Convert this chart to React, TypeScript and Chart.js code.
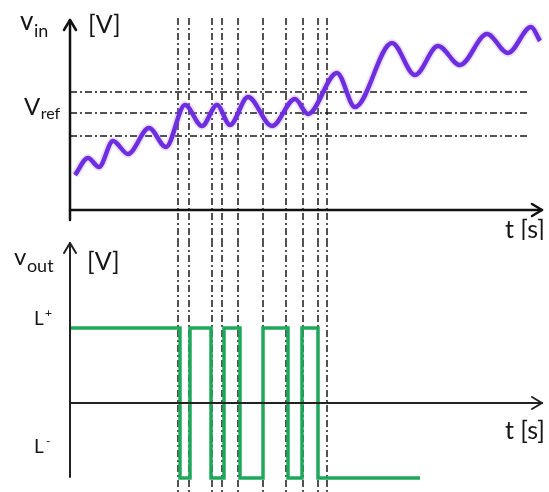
import React, { useEffect, useRef } from "react";
import { Chart, registerables } from "chart.js";

Chart.register(...registerables);

const FONT = "Lato, 'Open Sans', sans-serif";

// time axis (arbitrary units)
const timeMin = 0;
const timeMax = 47.2;

// input signal v_in [V]
const vinMin = 0;
const vinMax = 19;
const vinTimes = [0.5, 1.8, 2.9, 4.3, 5.8, 7.9, 9.6, 11.5, 13.2, 14.7, 16.0, 17.8, 20.2, 22.5, 23.8, 26.7, 28.5, 32.2, 34.5, 36.8, 39.0, 41.7, 43.8, 46.1, 47.0];
const vinValues = [3.5, 5.2, 4.3, 6.9, 5.6, 8.2, 6.3, 10.5, 8.4, 10.5, 8.5, 11.3, 8.4, 11.1, 9.6, 13.7, 10.3, 16.7, 13.5, 16.4, 14.5, 17.6, 15.7, 18.3, 16.9];

// reference / hysteresis levels
const thresholdLevels = [11.8, 9.7, 7.4];
const vrefLevel = 9.7;
const thresholdEnd = 45.8;

// switching instants (vertical guide lines)
const switchTimes = [10.8, 11.9, 14.2, 15.2, 16.8, 19.3, 21.6, 23.3, 24.8, 25.7];

// output signal v_out (L+ = 1, L- = -1)
const voutMin = -1;
const voutMax = 1;
const voutTimes = [0, 11.0, 12.0, 14.1, 15.4, 17.0, 19.3, 21.8, 23.2, 24.8, 35.0];
const voutValues = [1, -1, 1, -1, 1, -1, 1, -1, 1, -1, -1];

const W = 549;
const TOP_H = 240;
const BOT_H = 252;

function dashLine(ctx: CanvasRenderingContext2D, x1: number, y1: number, x2: number, y2: number) {
  ctx.beginPath();
  ctx.moveTo(x1, y1);
  ctx.lineTo(x2, y2);
  ctx.stroke();
}

function drawArrowAxes(ctx: CanvasRenderingContext2D, ox: number, oy: number, yTop: number, yBottom: number, xRight: number, width: number, color: string) {
  ctx.save();
  ctx.strokeStyle = color;
  ctx.lineWidth = width;
  ctx.setLineDash([]);
  ctx.lineCap = "round";
  ctx.lineJoin = "round";
  dashLine(ctx, ox, yBottom, ox, yTop);
  ctx.beginPath();
  ctx.moveTo(ox - 6, yTop + 10);
  ctx.lineTo(ox, yTop);
  ctx.lineTo(ox + 6, yTop + 10);
  ctx.stroke();
  dashLine(ctx, ox, oy, xRight, oy);
  ctx.beginPath();
  ctx.moveTo(xRight - 10, oy - 6);
  ctx.lineTo(xRight, oy);
  ctx.lineTo(xRight - 10, oy + 6);
  ctx.stroke();
  ctx.restore();
}

function drawSubText(ctx: CanvasRenderingContext2D, main: string, sub: string, x: number, y: number, mainSize: number, subSize: number, subDy: number) {
  ctx.save();
  ctx.fillStyle = "#151515";
  ctx.textBaseline = "alphabetic";
  ctx.textAlign = "left";
  ctx.font = `${mainSize}px ${FONT}`;
  ctx.fillText(main, x, y);
  const w = ctx.measureText(main).width;
  ctx.font = `${subSize}px ${FONT}`;
  ctx.fillText(sub, x + w + 0.5, y + subDy);
  ctx.restore();
}

function drawGuides(chart: any, fromY: number, horizontal: boolean) {
  const { ctx, scales } = chart;
  const x = scales.x;
  const y = scales.y;
  ctx.save();
  ctx.strokeStyle = "#1a1a1a";
  ctx.lineWidth = 1.5;
  ctx.setLineDash([7, 3, 2, 3]);
  if (horizontal) {
    for (const lv of thresholdLevels) {
      const py = Math.round(y.getPixelForValue(lv));
      dashLine(ctx, x.getPixelForValue(timeMin), py, x.getPixelForValue(thresholdEnd), py);
    }
  }
  for (const t of switchTimes) {
    const px = Math.round(x.getPixelForValue(t));
    dashLine(ctx, px, fromY, px, chart.height);
  }
  ctx.restore();
}

const topPlugin = {
  id: "topDeco",
  beforeDatasetsDraw(chart: any) {
    drawGuides(chart, chart.scales.y.getPixelForValue(vinMax) - 2, true);
  },
  afterDraw(chart: any) {
    const { ctx, scales } = chart;
    const ox = scales.x.getPixelForValue(timeMin);
    const oy = scales.y.getPixelForValue(vinMin);
    const top = scales.y.getPixelForValue(vinMax);
    const right = scales.x.getPixelForValue(timeMax);
    drawArrowAxes(ctx, ox, oy, top, oy + 10, right, 2.5, "#111");
    drawSubText(ctx, "v", "in", 20, 30, 26, 18, 7);
    ctx.save();
    ctx.fillStyle = "#151515";
    ctx.font = `25px ${FONT}`;
    ctx.textAlign = "left";
    ctx.fillText("[V]", 88, 33);
    ctx.textAlign = "right";
    ctx.fillText("t [s]", 545, 238);
    ctx.restore();
    const vy = scales.y.getPixelForValue(vrefLevel);
    drawSubText(ctx, "V", "ref", 24, vy + 2, 24, 16, 4);
  },
};

const bottomPlugin = {
  id: "bottomDeco",
  beforeDatasetsDraw(chart: any) {
    drawGuides(chart, 0, false);
  },
  afterDraw(chart: any) {
    const { ctx, scales } = chart;
    const ox = scales.x.getPixelForValue(timeMin);
    const oy = scales.y.getPixelForValue(0);
    const right = scales.x.getPixelForValue(timeMax);
    const yTop = 3;
    const yBottom = scales.y.getPixelForValue(voutMin) - 1;
    drawArrowAxes(ctx, ox, oy, yTop, yBottom, right, 2, "#222");
    drawSubText(ctx, "v", "out", 14, 25, 24, 18, 7);
    ctx.save();
    ctx.fillStyle = "#151515";
    ctx.font = `25px ${FONT}`;
    ctx.textAlign = "left";
    ctx.fillText("[V]", 87, 30);
    ctx.textAlign = "right";
    ctx.fillText("t [s]", 545, 199);
    ctx.restore();
    const pY = scales.y.getPixelForValue(voutMax);
    const mY = scales.y.getPixelForValue(voutMin);
    ctx.save();
    ctx.fillStyle = "#151515";
    ctx.textAlign = "left";
    ctx.font = `19px ${FONT}`;
    ctx.fillText("L", 34, pY - 3);
    ctx.fillText("L", 34, mY - 25);
    ctx.font = `12px ${FONT}`;
    ctx.fillText("+", 45, pY - 11);
    ctx.fillText("-", 46, mY - 33);
    ctx.restore();
  },
};

function xScale() {
  return { type: "linear", min: timeMin, max: timeMax, display: false };
}

export default function App() {
  const topRef = useRef<HTMLCanvasElement | null>(null);
  const botRef = useRef<HTMLCanvasElement | null>(null);

  useEffect(() => {
    const vinData = vinTimes.map((t, i) => ({ x: t, y: vinValues[i] }));
    const voutData = voutTimes.map((t, i) => ({ x: t, y: voutValues[i] }));

    const top = new Chart(topRef.current as HTMLCanvasElement, {
      type: "line",
      data: {
        datasets: [
          {
            data: vinData,
            borderColor: "rgba(170,130,255,0.25)",
            borderWidth: 8,
            pointRadius: 0,
            cubicInterpolationMode: "monotone",
            clip: false,
          },
          {
            data: vinData,
            borderColor: "#5a12d4",
            borderWidth: 4.5,
            pointRadius: 0,
            cubicInterpolationMode: "monotone",
            clip: false,
          },
        ],
      },
      options: {
        responsive: false,
        animation: false,
        events: [],
        layout: { padding: { left: 70, right: W - 542, top: 20, bottom: TOP_H - 210 } },
        plugins: { legend: { display: false }, tooltip: { enabled: false }, title: { display: false } },
        scales: {
          x: xScale() as any,
          y: { type: "linear", min: vinMin, max: vinMax, display: false },
        },
      },
      plugins: [topPlugin],
    } as any);

    const bot = new Chart(botRef.current as HTMLCanvasElement, {
      type: "line",
      data: {
        datasets: [
          {
            data: voutData,
            borderColor: "#1fa85b",
            borderWidth: 3.5,
            pointRadius: 0,
            stepped: true,
            clip: false,
          },
        ],
      },
      options: {
        responsive: false,
        animation: false,
        events: [],
        layout: { padding: { left: 70, right: W - 542, top: 328 - TOP_H, bottom: TOP_H + BOT_H - 478 } },
        plugins: { legend: { display: false }, tooltip: { enabled: false }, title: { display: false } },
        scales: {
          x: xScale() as any,
          y: { type: "linear", min: voutMin, max: voutMax, display: false },
        },
      },
      plugins: [bottomPlugin],
    } as any);

    return () => {
      top.destroy();
      bot.destroy();
    };
  }, []);

  return (
    <div style={{ position: "absolute", left: 0, top: 0, width: W, height: TOP_H + BOT_H, background: "#fff" }}>
      <canvas ref={topRef} width={W} height={TOP_H} style={{ display: "block", width: W, height: TOP_H }} />
      <canvas ref={botRef} width={W} height={BOT_H} style={{ display: "block", width: W, height: BOT_H }} />
    </div>
  );
}
